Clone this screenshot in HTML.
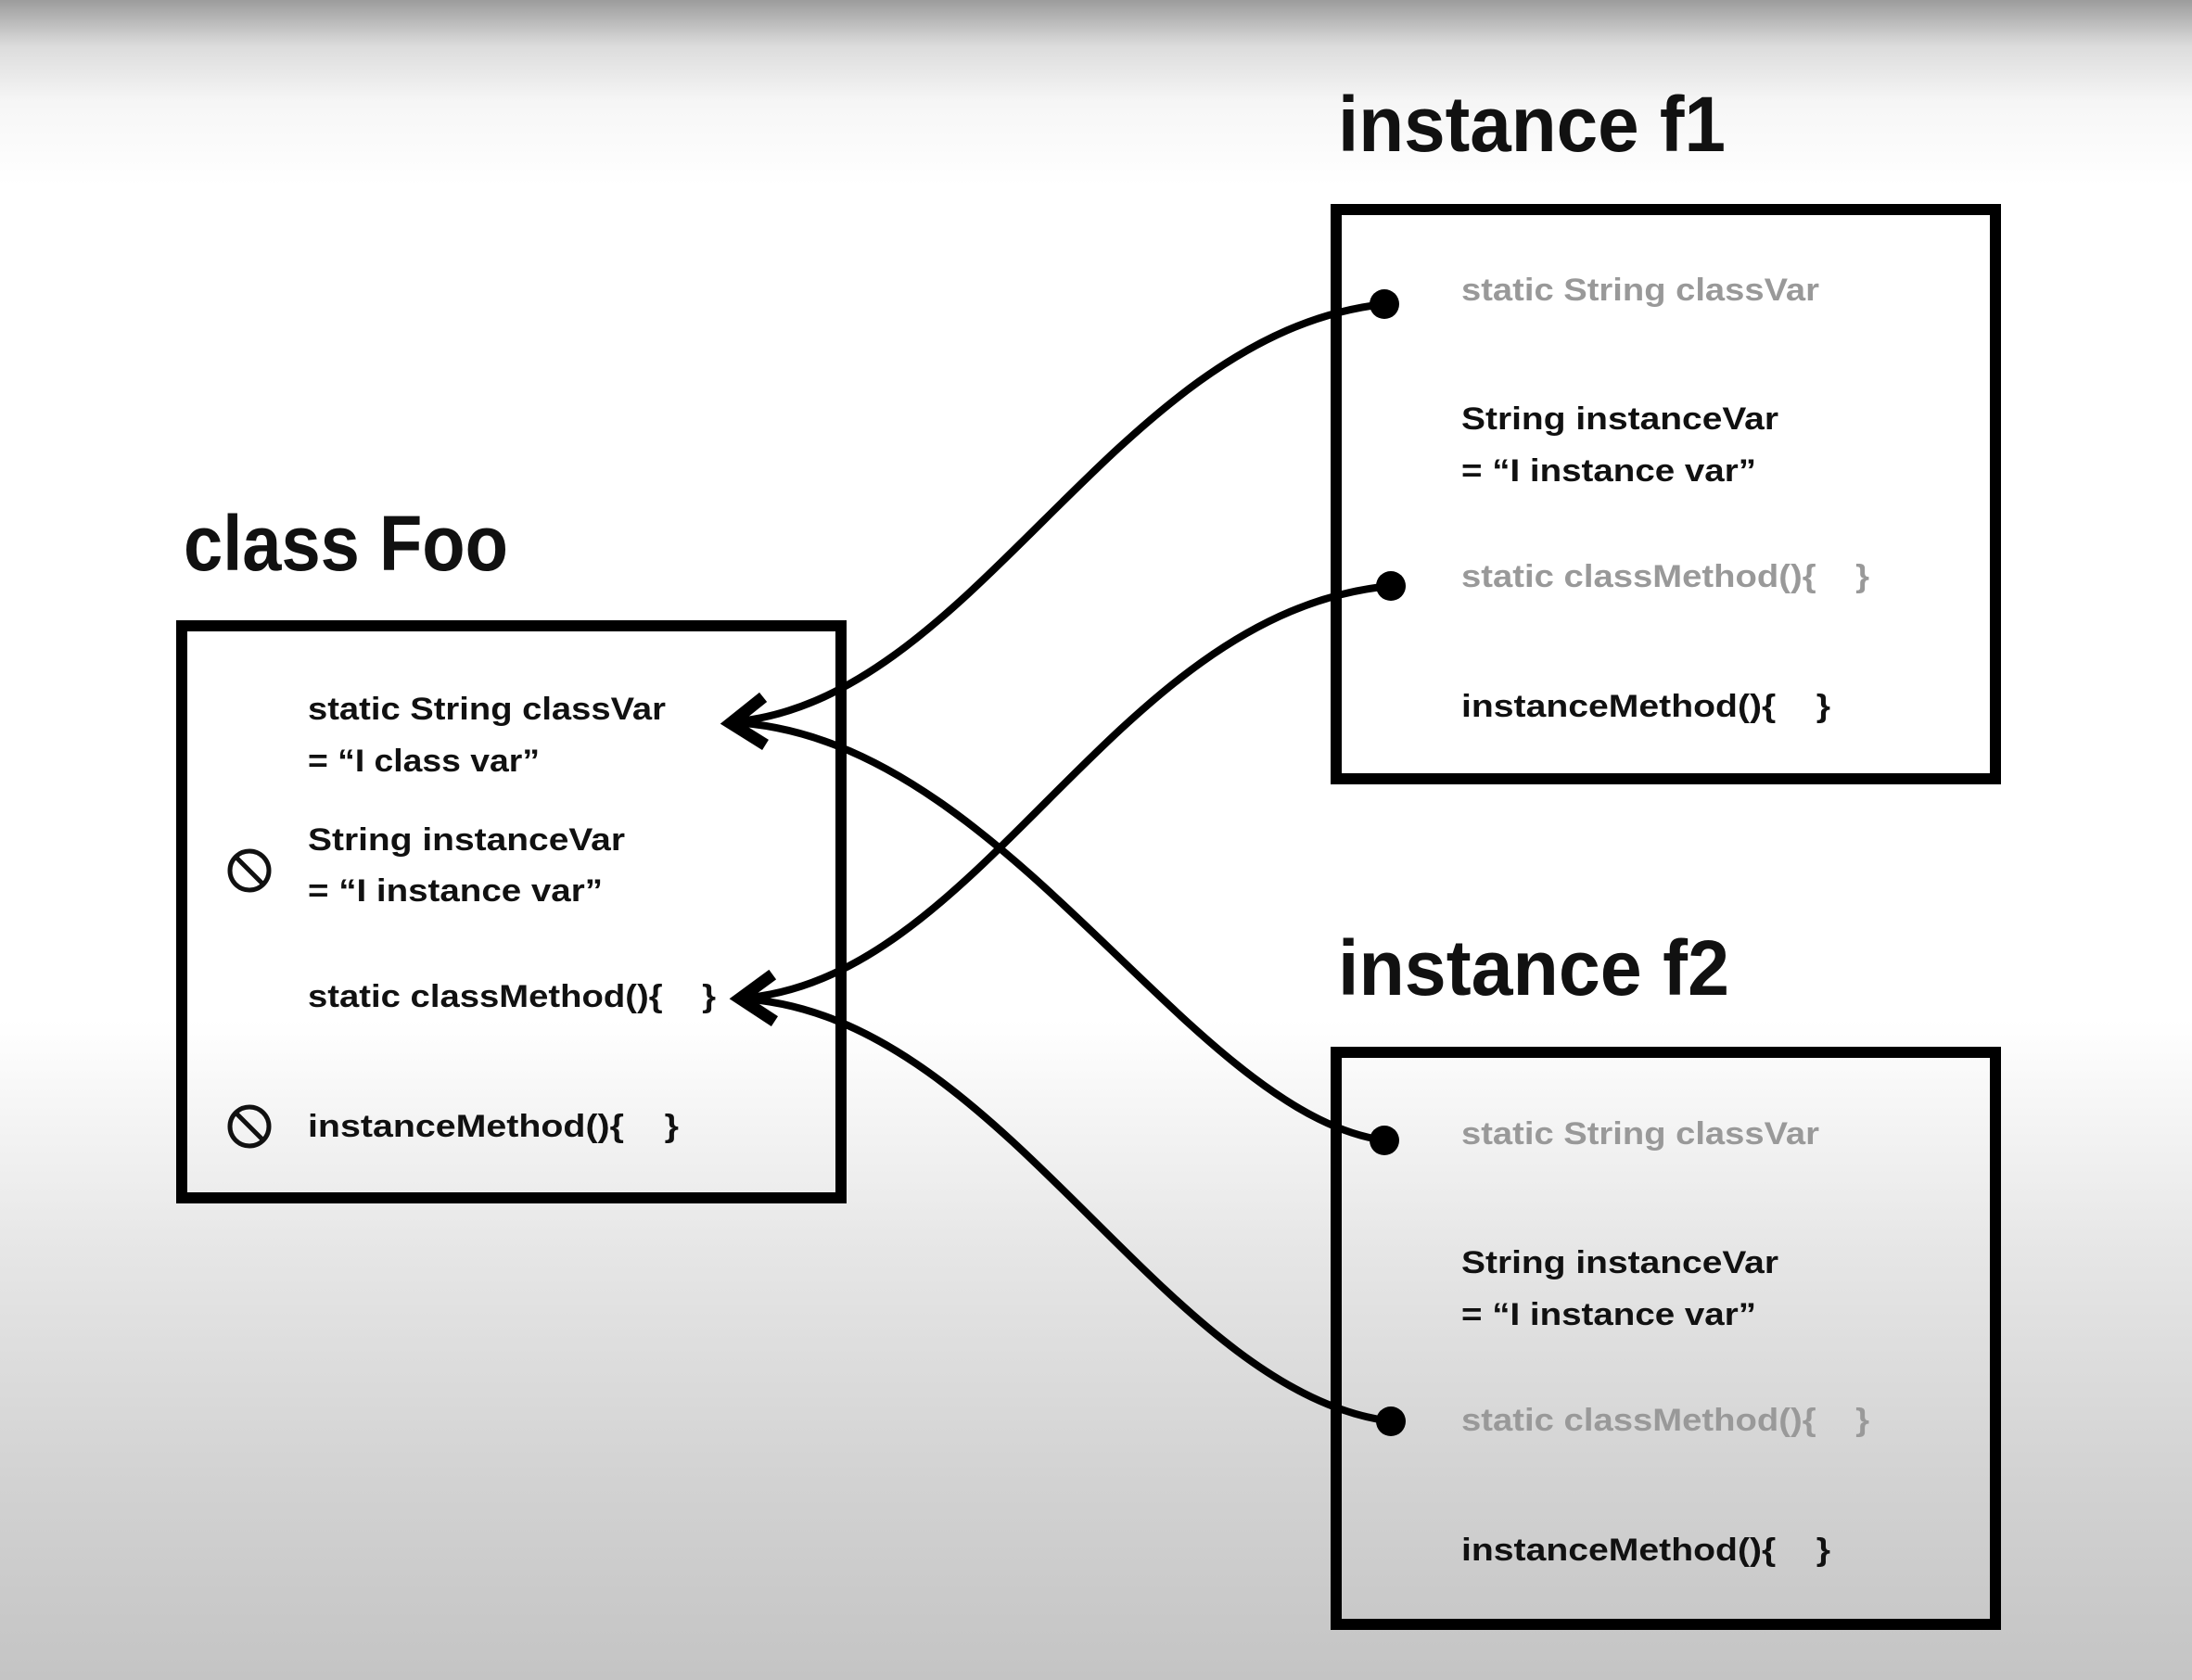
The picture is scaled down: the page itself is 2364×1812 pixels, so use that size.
<!DOCTYPE html>
<html><head><meta charset="utf-8"><style>
html,body{margin:0;padding:0;}
body{width:2364px;height:1812px;overflow:hidden;background:linear-gradient(to bottom,#9c9c9c 0px,#dcdcdc 50px,#f6f6f6 110px,#ffffff 200px,#ffffff 1100px,#e6e6e6 1350px,#d2d2d2 1600px,#c4c4c4 1812px);}
svg{position:absolute;left:0;top:0;}
text{font-family:"Liberation Sans",sans-serif;font-weight:bold;}
.t{font-size:34px;fill:#111;}
.g{font-size:34px;fill:#999;}
.h{font-size:84px;fill:#111;}
</style></head><body>
<svg width="2364" height="1812" viewBox="0 0 2364 1812">
<g fill="none" stroke="#000" stroke-width="12">
<rect x="196" y="675" width="711" height="617"/>
<rect x="1441" y="226" width="711" height="614"/>
<rect x="1441" y="1135" width="711" height="617"/>
</g>
<text class="h" x="198" y="615" textLength="350" lengthAdjust="spacingAndGlyphs">class Foo</text>
<text class="h" x="1443" y="163" textLength="418" lengthAdjust="spacingAndGlyphs">instance f1</text>
<text class="h" x="1443" y="1073" textLength="422" lengthAdjust="spacingAndGlyphs">instance f2</text>

<text class="t" x="332" y="776" textLength="386" lengthAdjust="spacingAndGlyphs">static String classVar</text>
<text class="t" x="332" y="832" textLength="250" lengthAdjust="spacingAndGlyphs">= “I class var”</text>
<text class="t" x="332" y="917" textLength="342" lengthAdjust="spacingAndGlyphs">String instanceVar</text>
<text class="t" x="332" y="972" textLength="318" lengthAdjust="spacingAndGlyphs">= “I instance var”</text>
<text class="t" x="332" y="1086" textLength="440" lengthAdjust="spacingAndGlyphs">static classMethod(){ &#160;&#160; }</text>
<text class="t" x="332" y="1226" textLength="400" lengthAdjust="spacingAndGlyphs">instanceMethod(){ &#160;&#160; }</text>
<g fill="none" stroke="#111" stroke-width="5">
<circle cx="269" cy="939" r="21"/><line x1="254" y1="924" x2="284" y2="954"/>
<circle cx="269" cy="1215" r="21"/><line x1="254" y1="1200" x2="284" y2="1230"/>
</g>

<g>
<text class="g" x="1576" y="324" textLength="386" lengthAdjust="spacingAndGlyphs">static String classVar</text>
<text class="t" x="1576" y="463" textLength="342" lengthAdjust="spacingAndGlyphs">String instanceVar</text>
<text class="t" x="1576" y="519" textLength="318" lengthAdjust="spacingAndGlyphs">= “I instance var”</text>
<text class="g" x="1576" y="633" textLength="440" lengthAdjust="spacingAndGlyphs">static classMethod(){ &#160;&#160; }</text>
<text class="t" x="1576" y="773" textLength="398" lengthAdjust="spacingAndGlyphs">instanceMethod(){ &#160;&#160; }</text>
</g>
<g>
<text class="g" x="1576" y="1234" textLength="386" lengthAdjust="spacingAndGlyphs">static String classVar</text>
<text class="t" x="1576" y="1373" textLength="342" lengthAdjust="spacingAndGlyphs">String instanceVar</text>
<text class="t" x="1576" y="1429" textLength="318" lengthAdjust="spacingAndGlyphs">= “I instance var”</text>
<text class="g" x="1576" y="1543" textLength="440" lengthAdjust="spacingAndGlyphs">static classMethod(){ &#160;&#160; }</text>
<text class="t" x="1576" y="1683" textLength="398" lengthAdjust="spacingAndGlyphs">instanceMethod(){ &#160;&#160; }</text>
</g>

<g fill="none" stroke="#000" stroke-width="8" stroke-linecap="round">
<path d="M786,779 C1050,760 1200,360 1493,328"/>
<path d="M786,779 C1080,790 1280,1200 1493,1230"/>
<path d="M796,1077 C1060,1060 1200,660 1500,632"/>
<path d="M796,1077 C1080,1090 1250,1500 1500,1533"/>
</g>
<g fill="none" stroke="#000" stroke-width="13" stroke-linecap="square" stroke-linejoin="miter">
<polyline points="818,756 788,780 820,800"/>
<polyline points="828,1055 798,1077 830,1098"/>
</g>
<g fill="#000">
<circle cx="1493" cy="328" r="16"/>
<circle cx="1500" cy="632" r="16"/>
<circle cx="1493" cy="1230" r="16"/>
<circle cx="1500" cy="1533" r="16"/>
</g>
</svg>
</body></html>
